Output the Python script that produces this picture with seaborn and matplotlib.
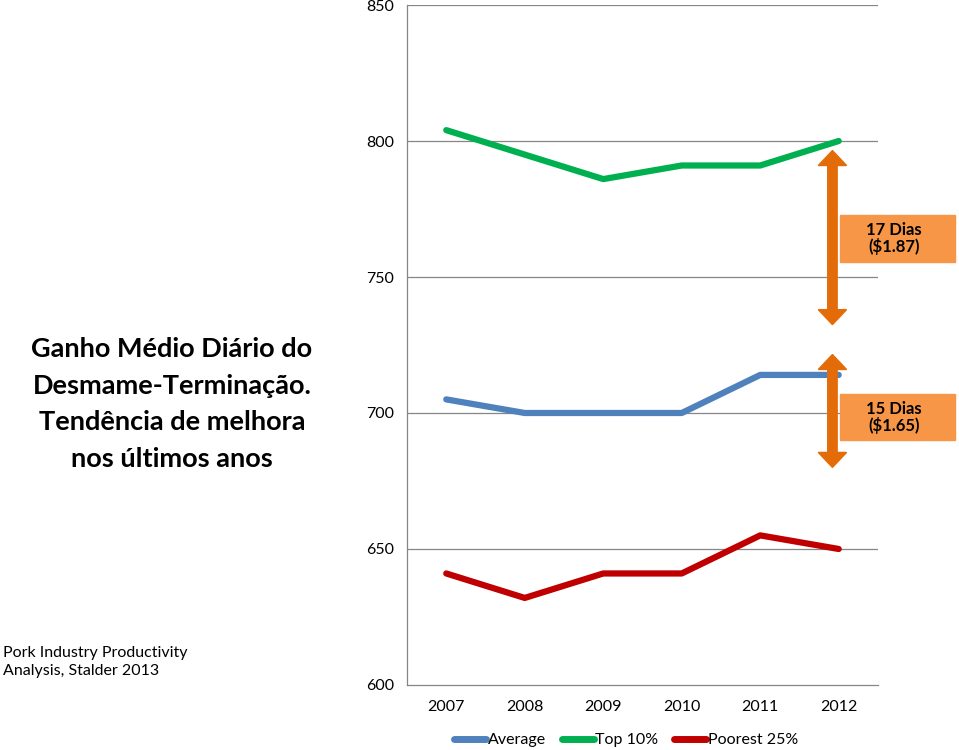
import pandas as pd
import numpy as np
import seaborn as sns
import matplotlib.pyplot as plt
from matplotlib.patches import FancyArrow, Rectangle

years = ['2007', '2008', '2009', '2010', '2011', '2012']
average = [705, 700, 700, 700, 714, 714]
top_10 = [804, 795, 786, 791, 791, 800]
poorest_25 = [641, 632, 641, 641, 655, 650]
series_names = ['Average', 'Top 10%', 'Poorest 25%']
colors = ['#4F81BD', '#00B050', '#C00000']
y_ticks = [600, 650, 700, 750, 800, 850]

df = pd.DataFrame({
    'pos': list(range(len(years))) * 3,
    'value': average + top_10 + poorest_25,
    'series': np.repeat(series_names, len(years)),
})

sns.set_style('white')
plt.rcParams['font.family'] = ['Lato', 'DejaVu Sans']
plt.rcParams['text.color'] = 'black'
plt.rcParams['xtick.labelcolor'] = 'black'
plt.rcParams['ytick.labelcolor'] = 'black'

fig = plt.figure(figsize=(9.59, 7.5), dpi=100)
ax = fig.add_axes([0.4244, 0.0867, 0.4911, 0.9066])

sns.lineplot(data=df, x='pos', y='value', hue='series', palette=colors,
             linewidth=4.5, ax=ax, legend=False)
for line in ax.lines:
    line.set_solid_capstyle('round')

ax.set_xlim(-0.5, len(years) - 0.5)
ax.set_ylim(600, 850)
ax.set_yticks(y_ticks)
ax.set_yticklabels([str(t) for t in y_ticks], fontsize=11.5)
ax.set_xticks(range(len(years)))
ax.set_xticklabels(years, fontsize=11.5)
ax.set_xticks(np.arange(-0.5, len(years)), minor=True)
ax.tick_params(axis='x', which='major', length=0, pad=11)
ax.tick_params(axis='x', which='minor', length=5, color='#868686', direction='out')
ax.tick_params(axis='y', length=5, color='#868686', direction='out', pad=4)
ax.set_xlabel('')
ax.set_ylabel('')

for t in y_ticks[1:]:
    ax.axhline(t, color='#868686', linewidth=0.9, zorder=0)
for s in ['top', 'right']:
    ax.spines[s].set_visible(False)
for s in ['left', 'bottom']:
    ax.spines[s].set_color('#868686')
    ax.spines[s].set_linewidth(0.9)

# double arrows showing the gaps
orange = '#E36C09'
arrow_x = 4.92
for y0, y1 in [(732.5, 796.5), (680, 721.5)]:
    for a, b in [(y0, y1), (y1, y0)]:
        mid = (a + b) / 2
        ax.add_patch(FancyArrow(arrow_x, mid, 0, b - mid, width=0.12,
                                head_width=0.36, head_length=5.5,
                                length_includes_head=True, color=orange,
                                clip_on=False, zorder=5))

# labels for the gaps
box_color = '#F79646'
for (x0, y0, w, h), txt in [((840, 215, 115, 47), '17 Dias\n($1.87)'),
                            ((840, 394, 115, 46), '15 Dias\n($1.65)')]:
    fig.patches.append(Rectangle((x0 / 959, 1 - (y0 + h) / 750), w / 959, h / 750,
                                 transform=fig.transFigure, color=box_color,
                                 zorder=1))
    fig.text(894 / 959, 1 - (y0 + h / 2) / 750, txt,
             ha='center', va='center', fontsize=12, fontweight='bold',
             linespacing=1.0, zorder=2)

fig.text(172 / 959, 1 - 404 / 750,
         'Ganho Médio Diário do\nDesmame-Terminação.\nTendência de melhora\nnos últimos anos',
         ha='center', va='center', fontsize=19.5, fontweight='bold',
         linespacing=1.62)
fig.text(3 / 959, 1 - 662 / 750, 'Pork Industry Productivity\nAnalysis, Stalder 2013',
         ha='left', va='center', fontsize=11.5, linespacing=1.3)

handles = [plt.Line2D([], [], color=c, linewidth=5, solid_capstyle='round')
           for c in colors]
fig.legend(handles, series_names, loc='center', bbox_to_anchor=(626 / 959, 1 - 740 / 750),
           ncol=3, frameon=False, fontsize=11.5, handlelength=2.0,
           handletextpad=0.1, columnspacing=1.0)

fig.savefig('out.png', dpi=100)
